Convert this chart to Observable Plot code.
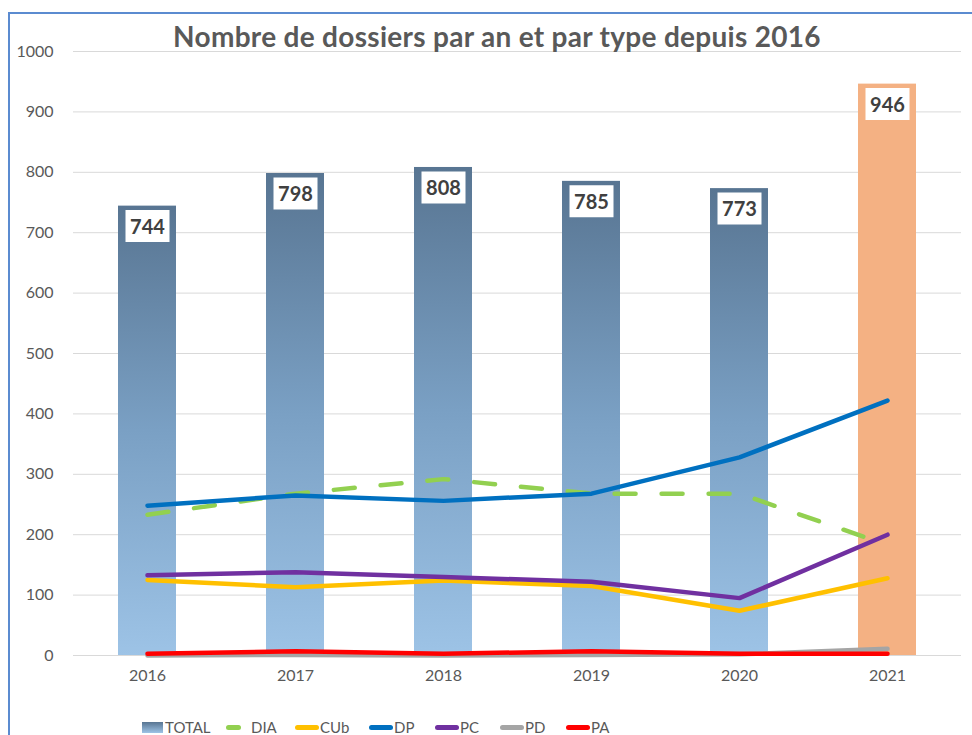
<!DOCTYPE html>
<html><head><meta charset="utf-8">
<script src="https://cdn.jsdelivr.net/npm/d3@7"></script>
<script src="https://cdn.jsdelivr.net/npm/@observablehq/plot@0.6"></script>
<style>
html,body{margin:0;padding:0;background:#fff;}
#wrap{position:relative;width:972px;height:735px;overflow:hidden;font-family:Lato,"Open Sans",sans-serif;}
#frame{position:absolute;left:8px;top:12px;width:980px;height:740px;border-left:2px solid #5b8bd0;border-top:2px solid #5b8bd0;}
#title{position:absolute;top:20px;left:497px;transform:translateX(-50%);white-space:nowrap;font-weight:bold;font-size:28px;letter-spacing:0.3px;color:#595959;line-height:32px;z-index:2;}
#chart{position:absolute;top:36px;left:0;}
#legend{position:absolute;top:716px;left:0;width:972px;height:22px;font-size:15px;color:#595959;}
.li{position:absolute;top:0;height:22px;line-height:22px;}
.sw{position:absolute;top:9px;height:5px;border-radius:3px;}
</style></head>
<body><div id="wrap"><div id="frame"></div>
<div id="chart"></div>
<div id="title">Nombre de dossiers par an et par type depuis 2016</div>
<div id="legend"></div></div>
<script>
const years = ["2016","2017","2018","2019","2020","2021"];
const total = [744, 798, 808, 785, 773, 946];
const dia = [233, 268, 292, 268, 268, 183];
const cub = [125, 113, 124, 115, 74, 128];
const dp  = [248, 265, 256, 268, 328, 422];
const pc  = [133, 138, 130, 122, 95, 200];
const pd  = [0, 1, 0, 1, 2, 11];
const pa  = [3, 7, 3, 7, 3, 3];
const seriesNames = ["DIA", "CUb", "DP", "PC", "PD", "PA"];
const seriesValues = [dia, cub, dp, pc, pd, pa];
const seriesColors = ["#92d050", "#ffc000", "#0070c0", "#7030a0", "#a5a5a5", "#ff0000"];
const yTicks = [0,100,200,300,400,500,600,700,800,900,1000];

const bars = years.map((y,i)=>({year:y, value: total[i], last: i === years.length-1}));
const lines = [];
seriesNames.forEach((s,k)=>years.forEach((y,i)=>lines.push({series:s, year:y, value: seriesValues[k][i]})));

const boxSymbol = {draw(ctx){ctx.moveTo(-22,-16);ctx.lineTo(22,-16);ctx.lineTo(22,16);ctx.lineTo(-22,16);ctx.closePath();}};

const lineMarks = seriesNames.map((s,k)=>Plot.line(lines.filter(d=>d.series===s), {
  x:"year", y:"value", stroke: seriesColors[k], strokeWidth: 4.5,
  strokeLinecap:"round", strokeLinejoin:"round",
  strokeDasharray: s === "DIA" ? "21,26" : null
}));

const chart = Plot.plot({
  width: 972, height: 660,
  marginTop: 15, marginBottom: 41, marginLeft: 73, marginRight: 11,
  style: {fontFamily: "Lato, sans-serif", fontSize: "16px", color: "#595959", background: "transparent"},
  x: {domain: years, type: "band", paddingInner: 0.605, paddingOuter: 0.3, tickSize: 0, tickPadding: 14, label: null},
  y: {domain: [0, 1000], ticks: yTicks, tickFormat: d => String(d), tickSize: 0, tickPadding: 20, label: null},
  marks: [
    Plot.ruleY(yTicks, {stroke: "#d9d9d9", strokeWidth: 1}),
    Plot.barY(bars.filter(d=>!d.last), {x:"year", y:"value", fill:"url(#totGrad)"}),
    Plot.barY(bars.filter(d=>d.last), {x:"year", y:"value", fill:"#f4b183"}),
    Plot.dot(bars, {x:"year", y:"value", dy: 20, symbol: boxSymbol, r: 5, fill:"#ffffff", stroke: null}),
    Plot.text(bars, {x:"year", y:"value", dy: 21, text: d=>String(d.value), fontWeight:"bold", fontSize: 20, fill:"#404040"}),
    ...lineMarks
  ]
});
const ns = "http://www.w3.org/2000/svg";
const defs = document.createElementNS(ns, "defs");
defs.innerHTML = '<linearGradient id="totGrad" x1="0" y1="0" x2="0" y2="1"><stop offset="0" stop-color="#587592"/><stop offset="0.5" stop-color="#7aa0c4"/><stop offset="1" stop-color="#9dc3e6"/></linearGradient>';
chart.insertBefore(defs, chart.firstChild);
document.getElementById("chart").appendChild(chart);

// legend
const legend = document.getElementById("legend");
const items = [
  {name:"TOTAL", type:"bar", sw:[142,21], tx:165},
  {name:"DIA", color:seriesColors[0], sw:[226,15], tx:251},
  {name:"CUb", color:seriesColors[1], sw:[295,24], tx:320},
  {name:"DP", color:seriesColors[2], sw:[369,24], tx:394},
  {name:"PC", color:seriesColors[3], sw:[435,24], tx:460},
  {name:"PD", color:seriesColors[4], sw:[500,24], tx:525},
  {name:"PA", color:seriesColors[5], sw:[566,24], tx:591}
];
items.forEach(it=>{
  const s = document.createElement("div");
  s.className = "sw";
  s.style.left = it.sw[0]+"px"; s.style.width = it.sw[1]+"px";
  if (it.type === "bar") { s.style.top="6px"; s.style.height="11px"; s.style.borderRadius="0"; s.style.background="linear-gradient(#587592,#9dc3e6)"; }
  else s.style.background = it.color;
  legend.appendChild(s);
  const t = document.createElement("div");
  t.className = "li"; t.style.left = it.tx+"px"; t.textContent = it.name;
  legend.appendChild(t);
});
</script></body></html>
